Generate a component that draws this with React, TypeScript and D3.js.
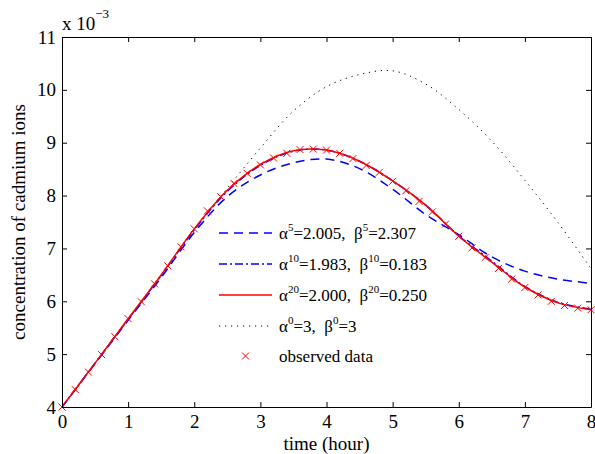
import React, { useRef, useEffect } from 'react';
import { select, scaleLinear, axisBottom, axisLeft, axisTop, axisRight, line, curveCatmullRom } from 'd3';

// time grid of the observations (hour)
const obsTime = [0, 0.2, 0.4, 0.6, 0.8, 1, 1.2, 1.4, 1.6, 1.8, 2, 2.2, 2.4, 2.6, 2.8, 3, 3.2, 3.4, 3.6, 3.8, 4,
  4.2, 4.4, 4.6, 4.8, 5, 5.2, 5.4, 5.6, 5.8, 6, 6.2, 6.4, 6.6, 6.8, 7, 7.2, 7.4, 7.6, 7.8, 8];
// observed concentration (x 10^-3)
const observed = [4.0, 4.33, 4.66, 4.99, 5.33, 5.67, 5.99, 6.33, 6.67, 7.03, 7.37, 7.71, 7.98, 8.23, 8.42, 8.58,
  8.71, 8.8, 8.87, 8.88, 8.86, 8.8, 8.7, 8.57, 8.44, 8.27, 8.09, 7.89, 7.69, 7.46, 7.23, 7.01, 6.83, 6.62, 6.42,
  6.26, 6.12, 6.0, 5.92, 5.87, 5.84];

// model curves on a half hour grid
const modelTime = [0, 0.5, 1, 1.5, 2, 2.5, 3, 3.5, 4, 4.5, 5, 5.5, 6, 6.5, 7, 7.5, 8];
const fit5 = [4.0, 4.82, 5.64, 6.45, 7.3, 7.98, 8.39, 8.62, 8.69, 8.51, 8.12, 7.64, 7.26, 6.84, 6.57, 6.42, 6.34];
const fit10 = [4.0, 4.83, 5.66, 6.49, 7.35, 8.08, 8.57, 8.84, 8.86, 8.65, 8.28, 7.82, 7.24, 6.76, 6.28, 5.98, 5.85];
const fit20 = [4.0, 4.83, 5.67, 6.5, 7.37, 8.1, 8.59, 8.85, 8.86, 8.65, 8.28, 7.82, 7.23, 6.74, 6.27, 5.97, 5.84];
const initial = [4.0, 4.83, 5.67, 6.5, 7.37, 8.14, 8.9, 9.6, 10.06, 10.29, 10.36, 10.11, 9.63, 9.03, 8.29, 7.49, 6.62];

const xTicks = [0, 1, 2, 3, 4, 5, 6, 7, 8];
const yTicks = [4, 5, 6, 7, 8, 9, 10, 11];

const FONT = "'Liberation Serif', 'Times New Roman', serif";

function App() {
  const svgRef = useRef<SVGSVGElement>(null);

  useEffect(() => {
    const svg = select(svgRef.current);
    svg.selectAll('*').remove();

    const left = 62, right = 591, top = 37, bottom = 407;
    const x = scaleLinear().domain([0, 8]).range([left, right]);
    const y = scaleLinear().domain([4, 11]).range([bottom, top]);

    const g = svg.append('g');

    const mk = (vals: number[]) =>
      line<number>().x((d, i) => x(modelTime[i])).y(d => y(d)).curve(curveCatmullRom)(vals);

    const clip = svg.append('clipPath').attr('id', 'plotclip');
    clip.append('rect').attr('x', left).attr('y', top).attr('width', right - left).attr('height', bottom - top);

    // curves
    const curves = g.append('g').attr('clip-path', 'url(#plotclip)');
    curves.append('path').attr('d', mk(initial)).attr('fill', 'none').attr('stroke', '#000')
      .attr('stroke-width', 1).attr('stroke-dasharray', '1.2,4.8');
    curves.append('path').attr('d', mk(fit5)).attr('fill', 'none').attr('stroke', '#0000ff')
      .attr('stroke-width', 1.5).attr('stroke-dasharray', '9,6');
    curves.append('path').attr('d', mk(fit10)).attr('fill', 'none').attr('stroke', '#0000ff')
      .attr('stroke-width', 1.5).attr('stroke-dasharray', '8,3,2,3');
    curves.append('path').attr('d', mk(fit20)).attr('fill', 'none').attr('stroke', '#ff0000')
      .attr('stroke-width', 1.5);

    // observed markers
    const ms = 3.5;
    const cross = (cx: number, cy: number) =>
      `M${cx - ms},${cy - ms}L${cx + ms},${cy + ms}M${cx - ms},${cy + ms}L${cx + ms},${cy - ms}`;
    g.selectAll('.obs')
      .data(observed)
      .join('path')
      .attr('class', 'obs')
      .attr('d', (d, i) => cross(x(obsTime[i]), y(d)))
      .attr('stroke', '#ff0000')
      .attr('stroke-width', 1);

    // axes, ticks pointing inward on all four sides
    const fmt = (d: any) => String(d);
    const xa = g.append('g').attr('transform', `translate(0,${bottom})`)
      .call(axisBottom(x).tickValues(xTicks).tickFormat(fmt).tickSizeInner(-5).tickSizeOuter(0).tickPadding(8));
    const ya = g.append('g').attr('transform', `translate(${left},0)`)
      .call(axisLeft(y).tickValues(yTicks).tickFormat(fmt).tickSizeInner(-5).tickSizeOuter(0).tickPadding(6));
    g.append('g').attr('transform', `translate(0,${top})`)
      .call(axisTop(x).tickValues(xTicks).tickFormat(() => '').tickSizeInner(-5).tickSizeOuter(0));
    g.append('g').attr('transform', `translate(${right},0)`)
      .call(axisRight(y).tickValues(yTicks).tickFormat(() => '').tickSizeInner(-5).tickSizeOuter(0));

    g.selectAll('.domain').attr('stroke', '#000').attr('stroke-width', 1);
    g.selectAll('.tick line').attr('stroke', '#000');
    [xa, ya].forEach(a => a.attr('font-family', null).attr('font-size', null)
      .selectAll('text').style('font-family', FONT).style('font-size', '19px').attr('fill', '#000'));

    // exponent label
    const ex = g.append('text').attr('x', 62).attr('y', 30).style('font-family', FONT).style('font-size', '19px');
    ex.append('tspan').text('x 10');
    ex.append('tspan').attr('dy', -12).style('font-size', '13px').text('\u22123');

    // axis titles
    g.append('text').attr('x', (left + right) / 2).attr('y', 450).attr('text-anchor', 'middle')
      .style('font-family', FONT).style('font-size', '19px').text('time (hour)');
    g.append('text').attr('transform', `translate(25,${(top + bottom) / 2}) rotate(-90)`).attr('text-anchor', 'middle')
      .style('font-family', FONT).style('font-size', '19px').text('concentration of cadmium ions');

    // legend
    const legend = [
      { a: '5', av: '2.005', b: '5', bv: '2.307', color: '#0000ff', dash: '9,6', w: 1.5 },
      { a: '10', av: '1.983', b: '10', bv: '0.183', color: '#0000ff', dash: '8,3,2,3', w: 1.5 },
      { a: '20', av: '2.000', b: '20', bv: '0.250', color: '#ff0000', dash: null, w: 1.5 },
      { a: '0', av: '3', b: '0', bv: '3', color: '#000', dash: '1.2,4.8', w: 1 },
    ];
    const lx0 = 219, lx1 = 272, tx = 279, ly0 = 233, dy = 31;
    legend.forEach((e, i) => {
      const yy = ly0 + i * dy;
      const ln = g.append('line').attr('x1', lx0).attr('x2', lx1).attr('y1', yy).attr('y2', yy)
        .attr('stroke', e.color).attr('stroke-width', e.w);
      if (e.dash) ln.attr('stroke-dasharray', e.dash);
      const t = g.append('text').attr('x', tx).attr('y', yy + 6).style('font-family', FONT).style('font-size', '17px');
      t.append('tspan').text('\u03b1');
      t.append('tspan').attr('dy', -8).style('font-size', '11px').text(e.a);
      t.append('tspan').attr('dy', 8).text(`=${e.av},\u00a0\u00a0\u03b2`);
      t.append('tspan').attr('dy', -8).style('font-size', '11px').text(e.b);
      t.append('tspan').attr('dy', 8).text(`=${e.bv}`);
    });
    const oy = ly0 + 4 * dy - 1;
    const ox = (lx0 + lx1) / 2;
    g.append('path').attr('d', cross(ox, oy)).attr('stroke', '#ff0000').attr('stroke-width', 1);
    g.append('text').attr('x', tx).attr('y', oy + 6).style('font-family', FONT).style('font-size', '17px')
      .text('observed data');
  }, []);

  return (
    <svg ref={svgRef} width={595} height={454}
      style={{ position: 'absolute', left: 0, top: 0, background: '#fff', fontFamily: FONT }} />
  );
}

export default App;
